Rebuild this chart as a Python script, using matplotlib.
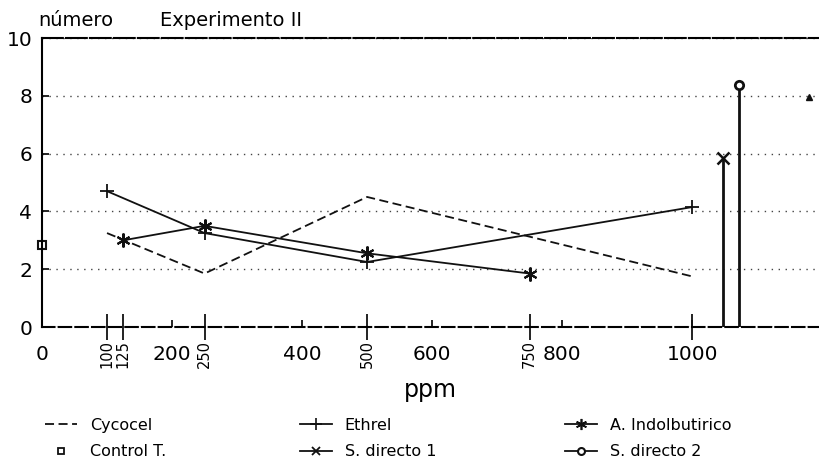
import numpy as np
import matplotlib.pyplot as plt
from matplotlib.lines import Line2D

# datos
cyc_x = [100, 250, 500, 1000]
cyc_y = [3.25, 1.85, 4.5, 1.75]

eth_x = [100, 250, 500, 1000]
eth_y = [4.7, 3.25, 2.25, 4.15]

iba_x = [125, 250, 500, 750]
iba_y = [3.0, 3.5, 2.55, 1.85]

ctrl_x = [0]
ctrl_y = [2.84]

sd1_x = [1048]
sd1_y = [5.85]

sd2_x = [1072]
sd2_y = [8.37]

extra_x = [1180]
extra_y = [7.96]

major_ticks = [0, 200, 400, 600, 800, 1000]
dose_ticks = [100, 125, 250, 500, 750, 1000]
dose_labels = ['100', '125', '250', '500', '750', '']

ink = '#111111'

fig = plt.figure(figsize=(8.19, 4.69), dpi=100)
ax = fig.add_axes([42/819, 1-327/469, 1-42/819, 289/469])

ax.plot(cyc_x, cyc_y, color=ink, lw=1.3, ls=(0, (5, 2.5)))
ax.plot(eth_x, eth_y, color=ink, lw=1.3, marker='+', ms=10, mew=1.3)
ax.plot(iba_x, iba_y, color=ink, lw=1.3, marker=(6, 2, 0), ms=10, mew=1.5)
ax.plot(ctrl_x, ctrl_y, ls='none', marker='s', ms=6, mfc='white', mec=ink, mew=1.5, clip_on=False)
ax.vlines(sd1_x, 0, sd1_y, color=ink, lw=2)
ax.plot(sd1_x, sd1_y, ls='none', marker='x', ms=8, mec=ink, mew=1.8)
ax.vlines(sd2_x, 0, sd2_y, color=ink, lw=2)
ax.plot(sd2_x, sd2_y, ls='none', marker='o', ms=6, mfc='white', mec=ink, mew=2)
ax.plot(extra_x, extra_y, ls='none', marker='^', ms=4, color=ink)

ax.set_xlim(0, 1195)
ax.set_ylim(0, 10)

ax.set_yticks([0, 2, 4, 6, 8, 10])
ax.grid(axis='y', ls=(0, (1, 4)), lw=1, color='#444444')
ax.set_xticks(major_ticks)
ax.set_xticklabels([str(t) for t in major_ticks])
ax.xaxis.remove_overlapping_locs = False
ax.set_xticks(dose_ticks, minor=True)
ax.set_xticklabels(dose_labels, minor=True, rotation=90, fontsize=10.5, va='top')

ax.tick_params(axis='y', direction='in', length=5, width=1.3, pad=7, labelsize=14.5, color=ink)
ax.tick_params(axis='x', which='major', direction='in', length=5, width=1.3, pad=13, labelsize=14.5, color=ink)
ax.tick_params(axis='x', which='minor', direction='inout', length=19, width=1.3, pad=0, color=ink)

ax.spines['right'].set_visible(False)
ax.spines['left'].set_linewidth(1.5)
ax.spines['top'].set_linewidth(1.5)
ax.spines['top'].set_linestyle((0, (10, 1.5)))
ax.spines['bottom'].set_linewidth(1.5)
ax.spines['bottom'].set_linestyle((0, (6, 2)))

ax.set_xlabel('ppm', fontsize=17, va='center')
ax.xaxis.set_label_coords(0.5, -0.218)

fig.text(38/819, 1-20/469, 'número', fontsize=14, va='center', ha='left')
fig.text(160/819, 1-20/469, 'Experimento II', fontsize=14, va='center', ha='left')

# leyenda en tres columnas
cols = [
    [Line2D([], [], color=ink, lw=1.3, ls=(0, (5, 2.5))),
     Line2D([], [], ls='none', marker='s', ms=5, mfc='white', mec=ink, mew=1.3)],
    [Line2D([], [], color=ink, lw=1.3, marker='+', ms=8, mew=1.2),
     Line2D([], [], color=ink, lw=1.3, marker='x', ms=6, mew=1.3)],
    [Line2D([], [], color=ink, lw=1.3, marker=(6, 2, 0), ms=8, mew=1.2),
     Line2D([], [], color=ink, lw=1.3, marker='o', ms=5, mfc='white', mec=ink, mew=1.5)],
]
col_labels = [['Cycocel', 'Control T.'],
              ['Ethrel', 'S. directo 1'],
              ['A. Indolbutirico', 'S. directo 2']]
col_x = [45/819, 300/819, 565/819]
for handles, labels, x0 in zip(cols, col_labels, col_x):
    fig.legend(handles, labels, loc='upper left', bbox_to_anchor=(x0, 1-418/469),
               frameon=False, fontsize=11.5, handlelength=2.0, handletextpad=0.8,
               labelspacing=0.7, borderpad=0, borderaxespad=0, numpoints=1)

fig.savefig('out.png', dpi=100)
